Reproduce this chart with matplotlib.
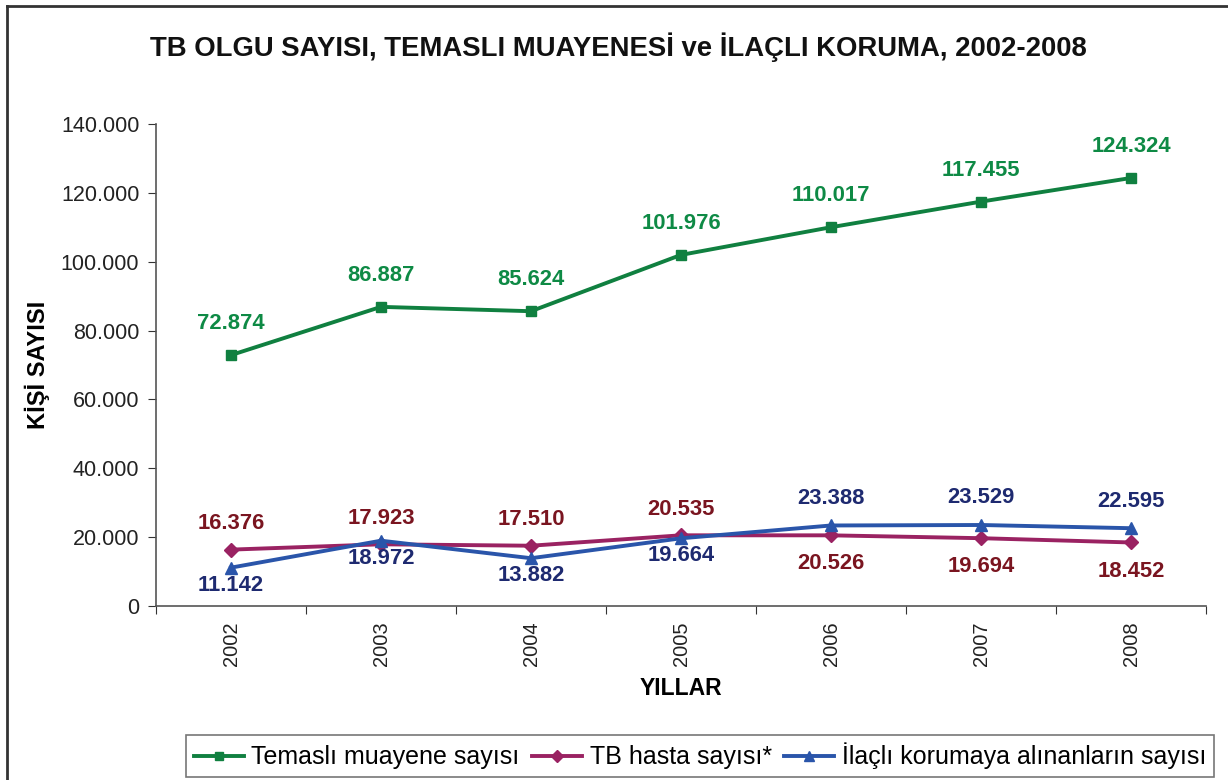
import matplotlib
matplotlib.use("Agg")
import matplotlib.pyplot as plt
from matplotlib.lines import Line2D

years = ["2002", "2003", "2004", "2005", "2006", "2007", "2008"]
temasli = [72874, 86887, 85624, 101976, 110017, 117455, 124324]
tb_hasta = [16376, 17923, 17510, 20535, 20526, 19694, 18452]
ilacli = [11142, 18972, 13882, 19664, 23388, 23529, 22595]
y_ticks = [0, 20000, 40000, 60000, 80000, 100000, 120000, 140000]
y_tick_labels = ["0", "20.000", "40.000", "60.000", "80.000", "100.000", "120.000", "140.000"]
tb_label_above = [True, True, True, True, False, False, False]
il_label_above = [False, False, False, False, True, True, True]

def fmt(v):
    return f"{v:,}".replace(",", ".")

plt.rcParams['font.family'] = ['Liberation Sans', 'DejaVu Sans']

fig = plt.figure(figsize=(12.28, 7.8), dpi=100)
ax = fig.add_axes([156/1228, 1-606/780, 1050/1228, (606-124)/780])

green = "#108040"
green_txt = "#0E8A45"
mag = "#9A2262"
mag_txt = "#7A1520"
blue = "#2A55AA"
blue_txt = "#1E2A70"
lab_fs = 15.8

x = list(range(len(years)))
ax.plot(x, temasli, color=green, lw=2.8, marker="s", ms=7.5, label="Temaslı muayene sayısı")
ax.plot(x, tb_hasta, color=mag, lw=2.8, marker="D", ms=7.5, label="TB hasta sayısı*")
ax.plot(x, ilacli, color=blue, lw=2.8, marker="^", ms=9, label="İlaçlı korumaya alınanların sayısı")

for i, v in enumerate(temasli):
    ax.annotate(fmt(v), (i, v), xytext=(0, 15), textcoords="offset points", ha="center", va="bottom",
                color=green_txt, fontsize=lab_fs, fontweight="bold")
for i, v in enumerate(tb_hasta):
    if tb_label_above[i]:
        ax.annotate(fmt(v), (i, v), xytext=(0, 11), textcoords="offset points", ha="center", va="bottom",
                    color=mag_txt, fontsize=lab_fs, fontweight="bold")
    else:
        ax.annotate(fmt(v), (i, v), xytext=(0, -13), textcoords="offset points", ha="center", va="top",
                    color=mag_txt, fontsize=lab_fs, fontweight="bold")
for i, v in enumerate(ilacli):
    if il_label_above[i]:
        ax.annotate(fmt(v), (i, v), xytext=(0, 12), textcoords="offset points", ha="center", va="bottom",
                    color=blue_txt, fontsize=lab_fs, fontweight="bold")
    else:
        ax.annotate(fmt(v), (i, v), xytext=(0, -5), textcoords="offset points", ha="center", va="top",
                    color=blue_txt, fontsize=lab_fs, fontweight="bold")

ax.set_xlim(-0.5, len(years) - 0.5)
ax.set_ylim(0, 140000)
ax.set_yticks(y_ticks)
ax.set_yticklabels(y_tick_labels, fontsize=15.5, color="#222222")
ax.set_xticks([i - 0.5 for i in range(len(years) + 1)])
ax.set_xticklabels([])
ax.set_xticks(x, minor=True)
ax.set_xticklabels(years, minor=True, rotation=90, fontsize=14.5, color="#222222")
ax.tick_params(axis="x", which="minor", length=0, pad=11)
ax.tick_params(axis="x", which="major", length=6, direction="out", color="#333333")
ax.tick_params(axis="y", length=6, direction="out", color="#333333", pad=6)
for s in ["top", "right"]:
    ax.spines[s].set_visible(False)
for s in ["left", "bottom"]:
    ax.spines[s].set_color("#555555")
    ax.spines[s].set_linewidth(1.2)

ax.set_ylabel("KİŞİ SAYISI", fontsize=17, fontweight="bold", labelpad=8)
ax.set_xlabel("YILLAR", fontsize=16.5, fontweight="bold", labelpad=8)
fig.text(618/1228, 1-47/780, "TB OLGU SAYISI, TEMASLI MUAYENESİ ve İLAÇLI KORUMA, 2002-2008",
         ha="center", va="center", fontsize=19.8, fontweight="bold", color="#111111")

leg = fig.legend(loc="center", bbox_to_anchor=(700/1228, 1-756/780), ncol=3, fontsize=18,
                 frameon=True, fancybox=False, edgecolor="#555555", handlelength=2.0,
                 columnspacing=0.5, handletextpad=0.3, borderpad=0.3, markerscale=0.85)
leg.get_frame().set_linewidth(1.2)

fig.add_artist(Line2D([7/1228, 7/1228], [0, 1-6/780], transform=fig.transFigure, color="#333333", lw=2))
fig.add_artist(Line2D([7/1228, 1], [1-6/780, 1-6/780], transform=fig.transFigure, color="#333333", lw=2))

fig.savefig("out.png", dpi=100)
